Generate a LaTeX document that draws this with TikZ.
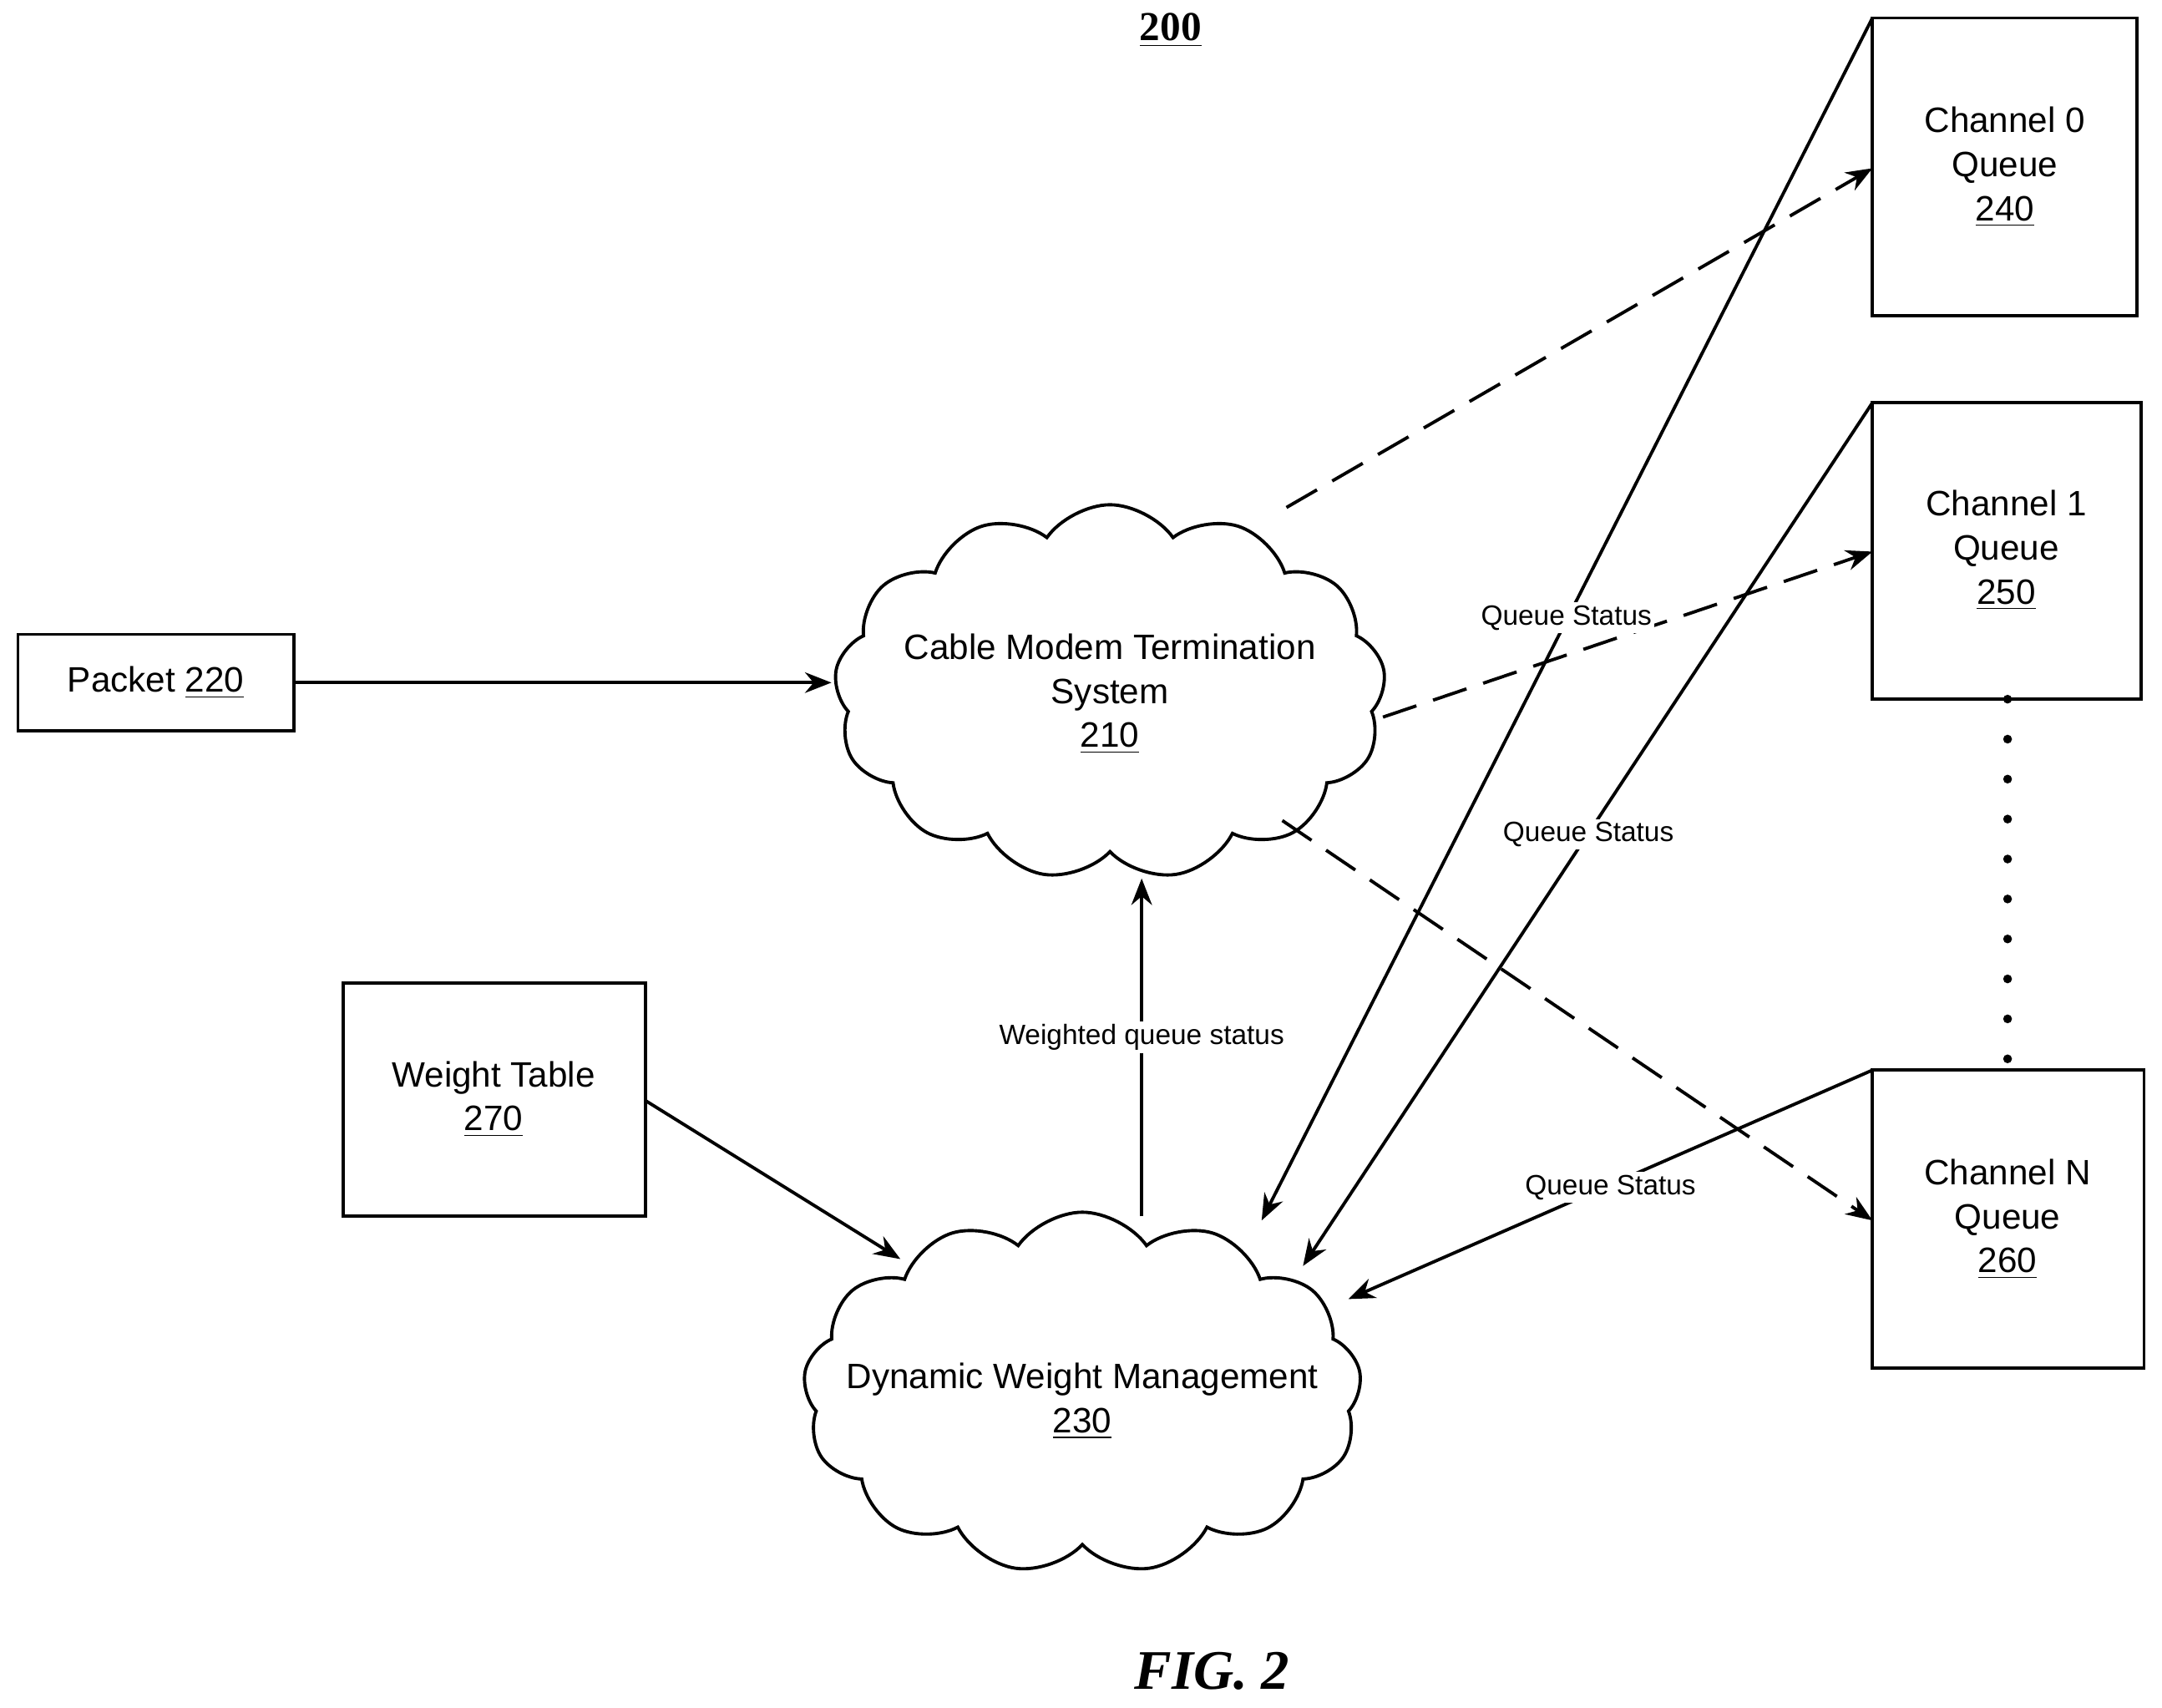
\documentclass[tikz,border=0pt]{standalone}
\usepackage{fontspec}
\setmainfont{Liberation Serif}
\setsansfont{Liberation Sans}
\usetikzlibrary{shapes.symbols,arrows.meta}
\begin{document}
\begin{tikzpicture}[x=0.0165cm,y=-0.0165cm,
    box/.style={line width=1.1pt,inner sep=0pt,align=center,font=\sffamily\fontsize{12}{15}\selectfont},
    cld/.style={draw,line width=1.1pt,cloud,cloud puffs=13,cloud puff arc=110,cloud ignores aspect,inner sep=0pt},
    arr/.style={line width=1.1pt,-{Stealth[length=9pt,width=7pt]}},
    lbl/.style={fill=white,inner sep=1pt,font=\sffamily\fontsize{9.5}{11}\selectfont}]
  \useasboundingbox (0,0) rectangle (1568,1238);

  % title and caption
  \node (title) at (849,22) {\fontsize{14}{16}\selectfont\bfseries\underline{200}};
  \node (fig) at (879,1212) {\fontsize{19}{22}\selectfont\bfseries\itshape FIG. 2};

  % boxes
  \draw[line width=1.1pt] (13,460) rectangle (213,530);
  \node[box] (packet) at (113,495) {Packet \underline{220}};
  \draw[line width=1.1pt] (249,713) rectangle (468,882);
  \node[box] (weight) at (358,797) {Weight Table\\\underline{270}};
  \draw[line width=1.1pt] (1358,13) rectangle (1550,229);
  \node[box] (ch0) at (1454,121) {Channel 0\\Queue\\\underline{240}};
  \draw[line width=1.1pt] (1358,292) rectangle (1553,507);
  \node[box] (ch1) at (1455,399) {Channel 1\\Queue\\\underline{250}};
  \draw[line width=1.1pt] (1358,776) rectangle (1555,992);
  \node[box] (chN) at (1456,884) {Channel N\\Queue\\\underline{260}};

  % clouds
  \node[cld,minimum width=400*0.0165cm,minimum height=272*0.0165cm] (cmts) at (805,502) {};
  \node[box] (cmtstext) at (805,503) {Cable Modem Termination\\System\\\underline{210}};
  \node[cld,minimum width=405*0.0165cm,minimum height=262*0.0165cm] (dwm) at (785,1010) {};
  \node[box] (dwmtext) at (785,1016) {Dynamic Weight Management\\\underline{230}};

  % connector ends
  \coordinate (c0) at (1358,13);
  \coordinate (c1) at (1358,292);
  \coordinate (cN) at (1358,776);
  \coordinate (d0) at (915,885);
  \coordinate (d1) at (945,918);
  \coordinate (dN) at (978,942);
  \coordinate (e0) at (933,368);
  \coordinate (e1) at (1003,520);
  \coordinate (eN) at (930,595);
  \coordinate (t0) at (1358,122);
  \coordinate (t1) at (1358,400);
  \coordinate (tN) at (1358,885);

  % solid arrows
  \draw[arr] (213,495) -- (603,495);
  \draw[arr] (468,798) -- (653,913);
  \draw[arr] (828,882) -- node[lbl,pos=0.53] {Weighted queue status} (828,637);
  \draw[arr] (c0) -- (d0);
  \draw[arr] (c1) -- (d1);
  \draw[arr] (cN) -- (dN);

  % dashed arrows
  \draw[arr,dash pattern=on 12pt off 6pt] (e0) -- (t0);
  \draw[arr,dash pattern=on 12pt off 6pt] (e1) -- (t1);
  \draw[arr,dash pattern=on 12pt off 6pt] (eN) -- (tN);

  % labels
  \node[lbl] (qs0) at (1136,448) {Queue Status};
  \node[lbl] (qs1) at (1152,605) {Queue Status};
  \node[lbl] (qsN) at (1168,861) {Queue Status};

  % dots
  \draw[line width=3pt,line cap=round,dash pattern=on 0pt off 13.6pt] (1456,507) -- (1456,770);
\end{tikzpicture}
\end{document}
